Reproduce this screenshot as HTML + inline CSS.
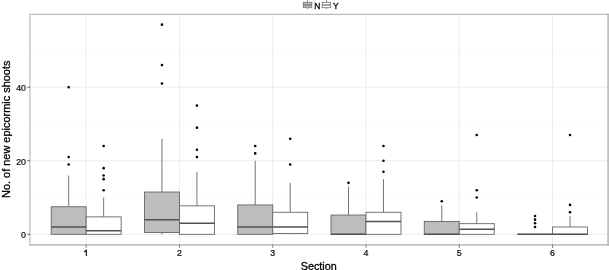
<!DOCTYPE html><html><head><meta charset="utf-8"><style>html,body{margin:0;padding:0;background:#fff;width:609px;height:270px;overflow:hidden}svg{display:block;will-change:transform}text{font-family:"Liberation Sans",sans-serif;stroke:#000;stroke-width:0.3px}</style></head><body>
<svg width="609" height="270" viewBox="0 0 609 270">
<rect x="0" y="0" width="609" height="270" fill="#fff"/>
<line x1="30.20" x2="608.50" y1="197.56" y2="197.56" stroke="#f7f7f7" stroke-width="0.6"/>
<line x1="30.20" x2="608.50" y1="123.98" y2="123.98" stroke="#f7f7f7" stroke-width="0.6"/>
<line x1="30.20" x2="608.50" y1="50.40" y2="50.40" stroke="#f7f7f7" stroke-width="0.6"/>
<line x1="30.20" x2="608.50" y1="234.35" y2="234.35" stroke="#ebebeb" stroke-width="0.9"/>
<line x1="30.20" x2="608.50" y1="160.77" y2="160.77" stroke="#ebebeb" stroke-width="0.9"/>
<line x1="30.20" x2="608.50" y1="87.19" y2="87.19" stroke="#ebebeb" stroke-width="0.9"/>
<line x1="86.16" x2="86.16" y1="14.40" y2="244.40" stroke="#ebebeb" stroke-width="0.9"/>
<line x1="179.44" x2="179.44" y1="14.40" y2="244.40" stroke="#ebebeb" stroke-width="0.9"/>
<line x1="272.71" x2="272.71" y1="14.40" y2="244.40" stroke="#ebebeb" stroke-width="0.9"/>
<line x1="365.99" x2="365.99" y1="14.40" y2="244.40" stroke="#ebebeb" stroke-width="0.9"/>
<line x1="459.26" x2="459.26" y1="14.40" y2="244.40" stroke="#ebebeb" stroke-width="0.9"/>
<line x1="552.54" x2="552.54" y1="14.40" y2="244.40" stroke="#ebebeb" stroke-width="0.9"/>
<line x1="68.68" x2="68.68" y1="175.49" y2="206.76" stroke="#666666" stroke-width="0.9"/>
<rect x="51.19" y="206.76" width="34.98" height="27.59" fill="#bdbdbd" stroke="#666666" stroke-width="0.9"/>
<line x1="51.19" x2="86.16" y1="226.99" y2="226.99" stroke="#505050" stroke-width="1.5"/>
<circle cx="68.68" cy="87.19" r="1.3" fill="#000"/>
<circle cx="68.68" cy="157.09" r="1.3" fill="#000"/>
<circle cx="68.68" cy="164.45" r="1.3" fill="#000"/>
<line x1="103.65" x2="103.65" y1="197.56" y2="216.87" stroke="#666666" stroke-width="0.9"/>
<rect x="86.16" y="216.87" width="34.98" height="17.48" fill="#ffffff" stroke="#666666" stroke-width="0.9"/>
<line x1="86.16" x2="121.14" y1="230.67" y2="230.67" stroke="#505050" stroke-width="1.5"/>
<circle cx="103.65" cy="146.05" r="1.3" fill="#000"/>
<circle cx="103.65" cy="168.13" r="1.3" fill="#000"/>
<circle cx="103.65" cy="175.49" r="1.3" fill="#000"/>
<circle cx="103.65" cy="179.16" r="1.3" fill="#000"/>
<circle cx="103.65" cy="190.20" r="1.3" fill="#000"/>
<line x1="161.95" x2="161.95" y1="138.70" y2="192.04" stroke="#666666" stroke-width="0.9"/>
<line x1="161.95" x2="161.95" y1="232.51" y2="234.35" stroke="#666666" stroke-width="0.9"/>
<rect x="144.46" y="192.04" width="34.98" height="40.47" fill="#bdbdbd" stroke="#666666" stroke-width="0.9"/>
<line x1="144.46" x2="179.44" y1="219.63" y2="219.63" stroke="#505050" stroke-width="1.5"/>
<circle cx="161.95" cy="24.65" r="1.3" fill="#000"/>
<circle cx="161.95" cy="65.12" r="1.3" fill="#000"/>
<circle cx="161.95" cy="83.51" r="1.3" fill="#000"/>
<line x1="196.93" x2="196.93" y1="171.81" y2="205.84" stroke="#666666" stroke-width="0.9"/>
<rect x="179.44" y="205.84" width="34.98" height="28.51" fill="#ffffff" stroke="#666666" stroke-width="0.9"/>
<line x1="179.44" x2="214.42" y1="223.31" y2="223.31" stroke="#505050" stroke-width="1.5"/>
<circle cx="196.93" cy="105.59" r="1.3" fill="#000"/>
<circle cx="196.93" cy="127.66" r="1.3" fill="#000"/>
<circle cx="196.93" cy="149.73" r="1.3" fill="#000"/>
<circle cx="196.93" cy="157.09" r="1.3" fill="#000"/>
<line x1="255.22" x2="255.22" y1="160.77" y2="204.92" stroke="#666666" stroke-width="0.9"/>
<rect x="237.74" y="204.92" width="34.98" height="29.43" fill="#bdbdbd" stroke="#666666" stroke-width="0.9"/>
<line x1="237.74" x2="272.71" y1="226.99" y2="226.99" stroke="#505050" stroke-width="1.5"/>
<circle cx="255.22" cy="146.05" r="1.3" fill="#000"/>
<circle cx="255.22" cy="153.41" r="1.3" fill="#000"/>
<line x1="290.20" x2="290.20" y1="182.84" y2="212.28" stroke="#666666" stroke-width="0.9"/>
<line x1="290.20" x2="290.20" y1="233.43" y2="234.35" stroke="#666666" stroke-width="0.9"/>
<rect x="272.71" y="212.28" width="34.98" height="21.15" fill="#ffffff" stroke="#666666" stroke-width="0.9"/>
<line x1="272.71" x2="307.69" y1="226.99" y2="226.99" stroke="#505050" stroke-width="1.5"/>
<circle cx="290.20" cy="138.70" r="1.3" fill="#000"/>
<circle cx="290.20" cy="164.45" r="1.3" fill="#000"/>
<line x1="348.50" x2="348.50" y1="186.52" y2="215.04" stroke="#666666" stroke-width="0.9"/>
<rect x="331.01" y="215.04" width="34.98" height="19.31" fill="#bdbdbd" stroke="#666666" stroke-width="0.9"/>
<line x1="331.01" x2="365.99" y1="234.35" y2="234.35" stroke="#505050" stroke-width="1.5"/>
<circle cx="348.50" cy="182.84" r="1.3" fill="#000"/>
<line x1="383.48" x2="383.48" y1="179.16" y2="212.28" stroke="#666666" stroke-width="0.9"/>
<rect x="365.99" y="212.28" width="34.98" height="22.07" fill="#ffffff" stroke="#666666" stroke-width="0.9"/>
<line x1="365.99" x2="400.96" y1="221.47" y2="221.47" stroke="#505050" stroke-width="1.5"/>
<circle cx="383.48" cy="146.05" r="1.3" fill="#000"/>
<circle cx="383.48" cy="160.77" r="1.3" fill="#000"/>
<circle cx="383.48" cy="171.81" r="1.3" fill="#000"/>
<line x1="441.77" x2="441.77" y1="204.92" y2="221.47" stroke="#666666" stroke-width="0.9"/>
<rect x="424.28" y="221.47" width="34.98" height="12.88" fill="#bdbdbd" stroke="#666666" stroke-width="0.9"/>
<line x1="424.28" x2="459.26" y1="234.35" y2="234.35" stroke="#505050" stroke-width="1.5"/>
<circle cx="441.77" cy="201.24" r="1.3" fill="#000"/>
<line x1="476.75" x2="476.75" y1="212.28" y2="223.68" stroke="#666666" stroke-width="0.9"/>
<rect x="459.26" y="223.68" width="34.98" height="10.67" fill="#ffffff" stroke="#666666" stroke-width="0.9"/>
<line x1="459.26" x2="494.24" y1="229.20" y2="229.20" stroke="#505050" stroke-width="1.5"/>
<circle cx="476.75" cy="135.02" r="1.3" fill="#000"/>
<circle cx="476.75" cy="190.20" r="1.3" fill="#000"/>
<circle cx="476.75" cy="197.56" r="1.3" fill="#000"/>
<line x1="535.05" x2="535.05" y1="234.35" y2="234.35" stroke="#666666" stroke-width="0.9"/>
<rect x="517.56" y="234.35" width="34.98" height="0.01" fill="#bdbdbd" stroke="#666666" stroke-width="0.9"/>
<line x1="517.56" x2="552.54" y1="234.35" y2="234.35" stroke="#505050" stroke-width="1.5"/>
<circle cx="535.05" cy="215.95" r="1.3" fill="#000"/>
<circle cx="535.05" cy="219.63" r="1.3" fill="#000"/>
<circle cx="535.05" cy="223.31" r="1.3" fill="#000"/>
<circle cx="535.05" cy="226.99" r="1.3" fill="#000"/>
<line x1="570.02" x2="570.02" y1="215.95" y2="226.99" stroke="#666666" stroke-width="0.9"/>
<rect x="552.54" y="226.99" width="34.98" height="7.36" fill="#ffffff" stroke="#666666" stroke-width="0.9"/>
<line x1="552.54" x2="587.51" y1="234.35" y2="234.35" stroke="#505050" stroke-width="1.5"/>
<circle cx="570.02" cy="135.02" r="1.3" fill="#000"/>
<circle cx="570.02" cy="204.92" r="1.3" fill="#000"/>
<circle cx="570.02" cy="212.28" r="1.3" fill="#000"/>
<line x1="29.2" x2="609" y1="14.4" y2="14.4" stroke="#bcbcbc" stroke-width="1.4"/>
<line x1="29.2" x2="609" y1="244.9" y2="244.9" stroke="#c2c2c2" stroke-width="1.6"/>
<line x1="29.9" x2="29.9" y1="13.7" y2="245.7" stroke="#cdcdcd" stroke-width="1.6"/>
<line x1="608.1" x2="608.1" y1="13.7" y2="245.7" stroke="#b4b4b4" stroke-width="1.5"/>
<line x1="27.2" x2="30.20" y1="234.35" y2="234.35" stroke="#555" stroke-width="0.9"/>
<text x="26.0" y="238.25" font-size="8.8" text-anchor="end" fill="#1a1a1a" style="stroke-width:0.24px">0</text>
<line x1="27.2" x2="30.20" y1="160.77" y2="160.77" stroke="#555" stroke-width="0.9"/>
<text x="26.0" y="164.67" font-size="8.8" text-anchor="end" fill="#1a1a1a" style="stroke-width:0.24px">20</text>
<line x1="27.2" x2="30.20" y1="87.19" y2="87.19" stroke="#555" stroke-width="0.9"/>
<text x="26.0" y="91.09" font-size="8.8" text-anchor="end" fill="#1a1a1a" style="stroke-width:0.24px">40</text>
<line x1="86.16" x2="86.16" y1="244.40" y2="247.9" stroke="#777" stroke-width="0.9"/>
<path d="M84.06,252.0 L85.76,250.7 L86.36,249.9 L86.36,256.0" fill="none" stroke="#1a1a1a" stroke-width="1.15" stroke-linejoin="round"/>
<line x1="179.44" x2="179.44" y1="244.40" y2="247.9" stroke="#777" stroke-width="0.9"/>
<text x="179.44" y="256.0" font-size="8.8" text-anchor="middle" fill="#1a1a1a" style="stroke-width:0.24px">2</text>
<line x1="272.71" x2="272.71" y1="244.40" y2="247.9" stroke="#777" stroke-width="0.9"/>
<text x="272.71" y="256.0" font-size="8.8" text-anchor="middle" fill="#1a1a1a" style="stroke-width:0.24px">3</text>
<line x1="365.99" x2="365.99" y1="244.40" y2="247.9" stroke="#777" stroke-width="0.9"/>
<text x="365.99" y="256.0" font-size="8.8" text-anchor="middle" fill="#1a1a1a" style="stroke-width:0.24px">4</text>
<line x1="459.26" x2="459.26" y1="244.40" y2="247.9" stroke="#777" stroke-width="0.9"/>
<text x="459.26" y="256.0" font-size="8.8" text-anchor="middle" fill="#1a1a1a" style="stroke-width:0.24px">5</text>
<line x1="552.54" x2="552.54" y1="244.40" y2="247.9" stroke="#777" stroke-width="0.9"/>
<text x="552.54" y="256.0" font-size="8.8" text-anchor="middle" fill="#1a1a1a" style="stroke-width:0.24px">6</text>
<text x="318.7" y="269.7" font-size="10.8" text-anchor="middle" fill="#000">Section</text>
<text transform="translate(10.2,129.3) rotate(-90)" font-size="10.95" text-anchor="middle" fill="#000">No. of new epicormic shoots</text>
<line x1="307.55" x2="307.55" y1="0" y2="9.2" stroke="#8a8a8a" stroke-width="0.9"/><rect x="303.3" y="2.3" width="8.5" height="5.4" fill="#bdbdbd" stroke="#7a7a7a" stroke-width="0.85"/><line x1="303.3" x2="311.8" y1="5" y2="5" stroke="#707070" stroke-width="1.2"/>
<text x="314.2" y="8.6" font-size="8.4" fill="#000">N</text>
<line x1="326.45" x2="326.45" y1="0" y2="9.2" stroke="#8a8a8a" stroke-width="0.9"/><rect x="322.2" y="2.3" width="8.5" height="5.4" fill="#ffffff" stroke="#7a7a7a" stroke-width="0.85"/><line x1="322.2" x2="330.7" y1="5" y2="5" stroke="#707070" stroke-width="1.2"/>
<text x="332.9" y="8.6" font-size="8.4" fill="#000">Y</text>
</svg></body></html>
